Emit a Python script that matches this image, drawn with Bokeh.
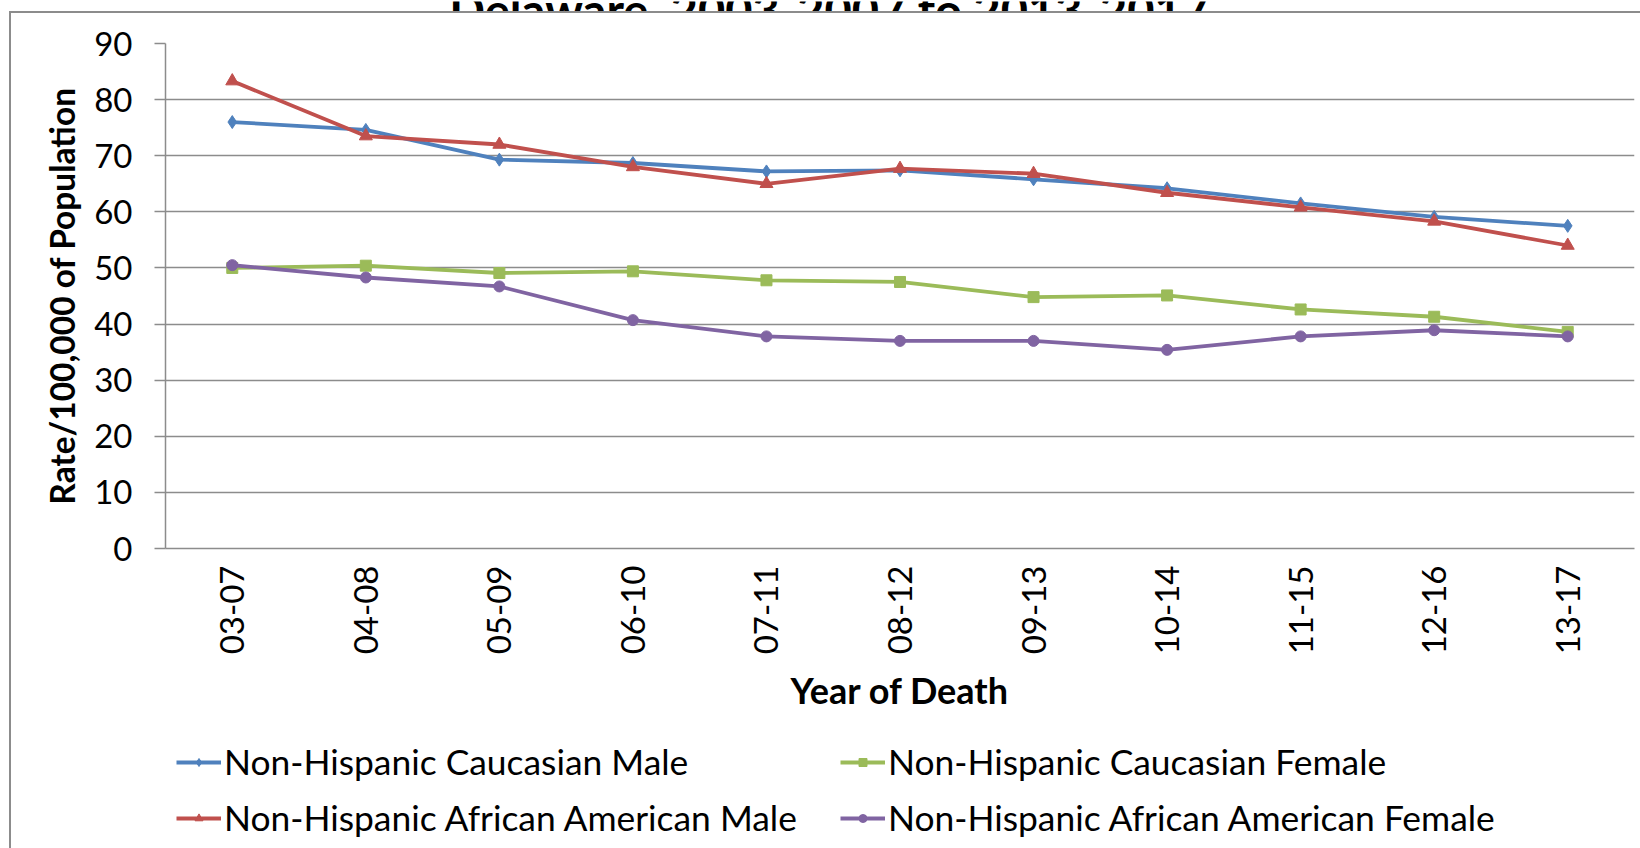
import math

from bokeh.embed import file_html
from bokeh.layouts import column
from bokeh.models import (ColumnDataSource, FactorRange, Label, Legend,
                          LegendItem, Range1d)
from bokeh.plotting import figure
from bokeh.resources import INLINE

# Five-year periods of death
periods = ["03-07", "04-08", "05-09", "06-10", "07-11", "08-12",
           "09-13", "10-14", "11-15", "12-16", "13-17"]

# Rates per 100,000 of population
cauc_male = [76.0, 74.6, 69.3, 68.7, 67.2, 67.4, 65.8, 64.2, 61.5, 59.1, 57.5]
aa_male = [83.3, 73.5, 72.0, 68.0, 65.0, 67.7, 66.8, 63.4, 60.8, 58.3, 54.0]
cauc_female = [50.0, 50.4, 49.1, 49.4, 47.8, 47.5, 44.8, 45.1, 42.6, 41.3, 38.6]
aa_female = [50.5, 48.3, 46.7, 40.7, 37.8, 37.0, 37.0, 35.4, 37.8, 38.9, 37.8]

series_names = ["Non-Hispanic Caucasian Male",
                "Non-Hispanic African American Male",
                "Non-Hispanic Caucasian Female",
                "Non-Hispanic African American Female"]
y_ticks = [0, 10, 20, 30, 40, 50, 60, 70, 80, 90]

title_text = "Delaware, 2003-2007 to 2013-2017"

FONT = "Lato"
GRID = "#8c8c8c"
BORDER = "#8c8c8c"

colors = ["#4F81BD", "#C0504D", "#9BBB59", "#8064A2"]
markers = ["diamond", "triangle", "square", "circle"]
sizes = [13, 13, 11, 11]
fields = ["cm", "am", "cf", "af"]
LINE_W = 3.8

source = ColumnDataSource(dict(period=periods, cm=cauc_male, am=aa_male,
                               cf=cauc_female, af=aa_female))
x_range = FactorRange(*periods, range_padding=0)

# ---- main chart -----------------------------------------------------------
p = figure(width=1640, height=709, x_range=x_range, y_range=Range1d(0, 90),
           output_backend="svg", toolbar_location=None,
           min_border_left=165, min_border_right=6,
           min_border_top=32, min_border_bottom=172,
           outline_line_color=None, background_fill_color="white",
           border_fill_alpha=0)

# y axis
p.yaxis.ticker = y_ticks
p.yaxis.axis_line_color = GRID
p.yaxis.axis_line_width = 1.5
p.yaxis.major_tick_line_color = GRID
p.yaxis.major_tick_line_width = 1.5
p.yaxis.major_tick_out = 11
p.yaxis.major_tick_in = 0
p.yaxis.minor_tick_line_color = None
p.yaxis.major_label_text_font = FONT
p.yaxis.major_label_text_font_size = "33px"
p.yaxis.major_label_text_color = "black"
p.yaxis.major_label_standoff = 22
p.yaxis.axis_label = "Rate/100,000 of Population"
p.yaxis.axis_label_text_font = FONT
p.yaxis.axis_label_text_font_style = "bold"
p.yaxis.axis_label_text_font_size = "33.5px"
p.yaxis.axis_label_text_color = "black"
p.yaxis.axis_label_standoff = 9

# x axis
p.xaxis.axis_line_color = GRID
p.xaxis.axis_line_width = 1.5
p.xaxis.major_tick_line_color = None
p.xaxis.major_tick_out = 0
p.xaxis.major_tick_in = 0
p.xaxis.minor_tick_line_color = None
p.xaxis.major_label_orientation = math.pi / 2
p.xaxis.major_label_text_font = FONT
p.xaxis.major_label_text_font_size = "33px"
p.xaxis.major_label_text_color = "black"
p.xaxis.major_label_standoff = 17
p.xaxis.axis_label = "Year of Death"
p.xaxis.axis_label_text_font = FONT
p.xaxis.axis_label_text_font_style = "bold"
p.xaxis.axis_label_text_font_size = "36px"
p.xaxis.axis_label_text_color = "black"
p.xaxis.axis_label_standoff = 11

p.xgrid.grid_line_color = None
p.ygrid.grid_line_color = GRID
p.ygrid.grid_line_width = 1.5

for field, color, marker, size in zip(fields, colors, markers, sizes):
    p.line("period", field, source=source, line_color=color, line_width=LINE_W)
    p.scatter("period", field, source=source, marker=marker, size=size,
              fill_color=color, line_color=color)

# ---- title strip: only the lower edge of the heading shows ----------------
tf = figure(width=1640, height=11, x_range=x_range, y_range=Range1d(0, 11),
            x_axis_type=None, y_axis_type=None, output_backend="svg",
            toolbar_location=None, min_border=0, outline_line_color=None,
            background_fill_alpha=0, border_fill_alpha=0)
tf.add_layout(Label(x=4.97, y=3, text=title_text, text_align="center",
                    text_baseline="alphabetic", text_font=FONT,
                    text_font_style="bold", text_font_size="47px",
                    text_color="black"))

# ---- legend strip under the chart -----------------------------------------
lf = figure(width=1640, height=128, x_range=Range1d(0, 1), y_range=Range1d(0, 1),
            x_axis_type=None, y_axis_type=None, output_backend="svg",
            toolbar_location=None, min_border=0, outline_line_color=None,
            background_fill_alpha=0, border_fill_alpha=0)

items = []
for name, color, marker in zip(series_names, colors, markers):
    # legend keys only: a single undefined point, so nothing is drawn in the strip
    key_line = lf.line(x=[math.nan], y=[math.nan], line_color=color, line_width=LINE_W)
    key_mark = lf.scatter(x=[math.nan], y=[math.nan], marker=marker,
                          fill_color=color, line_color=color)
    items.append(LegendItem(label=name, renderers=[key_line, key_mark]))

legend_style = dict(label_text_font=FONT, label_text_font_size="35.4px",
                    label_text_color="black", glyph_width=45, glyph_height=20,
                    label_height=40, spacing=13, padding=0, margin=0,
                    label_standoff=3, border_line_color=None,
                    background_fill_alpha=0)
lf.add_layout(Legend(items=[items[0], items[1]], location=(11, 9), **legend_style), "center")
lf.add_layout(Legend(items=[items[2], items[3]], location=(675, 9), **legend_style), "center")

# Grey chart-area frame (left and top edges)
frame_css = (f"linear-gradient({BORDER}, {BORDER}) 9px 11px / 2px 100% no-repeat, "
             f"linear-gradient({BORDER}, {BORDER}) 9px 11px / 100% 2px no-repeat white")

layout = column(tf, p, lf, spacing=0, styles={"background": frame_css})

open("out.html", "w").write(file_html(layout, INLINE))
